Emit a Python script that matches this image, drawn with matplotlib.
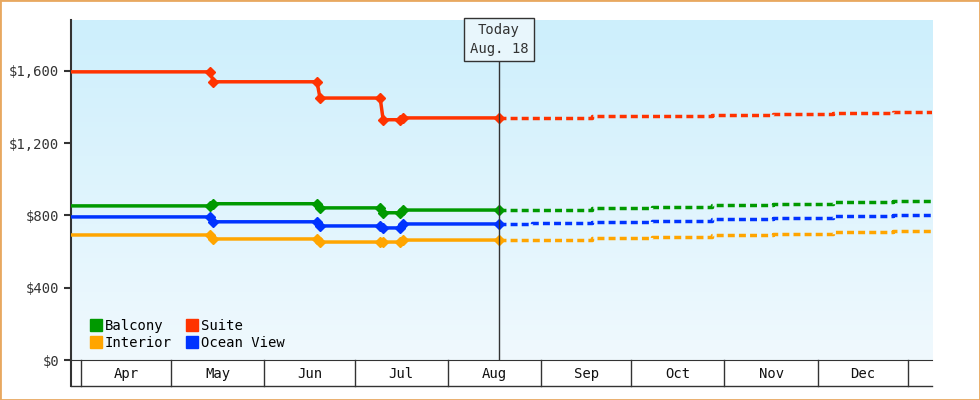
import matplotlib
matplotlib.use("Agg")
import matplotlib.pyplot as plt
import numpy as np
from matplotlib.patches import Rectangle
from matplotlib.colors import LinearSegmentedColormap

plt.rcParams["font.family"] = "DejaVu Sans Mono"

# days since Apr 1
hist_days = [-4, 43, 44, 78.5, 79.5, 99.5, 100.5, 106, 107, 139]
suite    = [1595, 1595, 1540, 1540, 1450, 1450, 1330, 1330, 1340, 1340]
balcony  = [853, 853, 865, 865, 842, 842, 815, 815, 830, 830]
ocean    = [792, 792, 765, 765, 742, 742, 731, 731, 753, 753]
interior = [692, 692, 670, 670, 653, 653, 653, 653, 664, 664]
marker_idx = [1, 2, 3, 4, 5, 6, 7, 8, 9]

fut_days = [139, 150, 170, 190, 210, 230, 250, 270, 287]
suite_f    = [1340, 1342, 1348, 1352, 1358, 1363, 1368, 1375, 1382]
balcony_f  = [830, 833, 840, 848, 856, 864, 872, 880, 890]
ocean_f    = [753, 756, 763, 771, 779, 787, 795, 805, 815]
interior_f = [664, 667, 675, 683, 692, 700, 708, 716, 725]

months = ["Apr", "May", "Jun", "Jul", "Aug", "Sep", "Oct", "Nov", "Dec"]
month_starts = [0, 30, 61, 91, 122, 153, 183, 214, 245, 275]
yticks = [0, 400, 800, 1200, 1600]

fig = plt.figure(figsize=(9.8, 4.0), dpi=100)
fig.patches.append(Rectangle((0, 0), 1, 1, transform=fig.transFigure, fill=False,
                             edgecolor="#e8a860", linewidth=2))
ax = fig.add_axes([71/980, 40/400, (932-71)/980, (380-40)/400])
x0, x1 = -3.3, 283
ax.set_xlim(x0, x1)
ax.set_ylim(0, 1882)
grad = np.linspace(0, 1, 256).reshape(-1, 1)
cm = LinearSegmentedColormap.from_list("g", ["#f0f9fe", "#cdeffc"])
ax.imshow(grad, aspect="auto", cmap=cm, extent=[x0, x1, 0, 1882], origin="lower", zorder=0)

series = [("Balcony", balcony, balcony_f, "#009900"),
          ("Interior", interior, interior_f, "#ffa500"),
          ("Suite", suite, suite_f, "#ff3300"),
          ("Ocean View", ocean, ocean_f, "#0033ff")]
for name, h, f, c in series:
    ax.plot(hist_days, h, color=c, lw=2.5, zorder=3)
    ax.plot([hist_days[i] for i in marker_idx], [h[i] for i in marker_idx], "D",
            color=c, ms=5, zorder=4)
    ax.step(fut_days, f, where="post", color=c, lw=2.5, ls=(0, (2, 1.2)), zorder=3)
    ax.plot([], [], "s", color=c, ms=9, label=name)

ax.axvline(139, color="#333333", lw=1, zorder=5)
ax.text(139, 1773, "Today\nAug. 18", ha="center", va="center", fontsize=10,
        color="#333333", zorder=6, linespacing=1.4,
        bbox=dict(boxstyle="square,pad=0.4", fc="#e8f6fc", ec="#333333", lw=1))

ax.set_yticks(yticks)
ax.set_yticklabels([f"${v:,}" for v in yticks], fontsize=10, color="#333333")
ax.tick_params(axis="y", length=5, width=1.5, color="#333333")
ax.set_xticks([])
for s in ["top", "right"]:
    ax.spines[s].set_visible(False)
ax.spines["left"].set_linewidth(1.5)
ax.spines["left"].set_color("#333333")
ax.spines["bottom"].set_color("#333333")

trans = ax.get_xaxis_transform()
for d in month_starts:
    ax.plot([d, d], [0, -0.075], transform=trans, color="#333333", lw=1, clip_on=False)
ax.plot([x0, x1], [-0.075, -0.075], transform=trans, color="#333333", lw=1, clip_on=False)
ax.plot([x0, x0], [0, -0.075], transform=trans, color="#333333", lw=1.5, clip_on=False)
for m, a, b in zip(months, month_starts[:-1], month_starts[1:]):
    ax.text((a+b)/2, -0.04, m, transform=trans, ha="center", va="center",
            fontsize=10, color="#111111")

ax.legend(loc="lower left", ncol=2, frameon=False, fontsize=10, handletextpad=0.1,
          columnspacing=1.0, borderaxespad=0.3, handlelength=1, labelspacing=0.25,
          bbox_to_anchor=(0.01, 0.0))
fig.savefig("out.png", dpi=100)
